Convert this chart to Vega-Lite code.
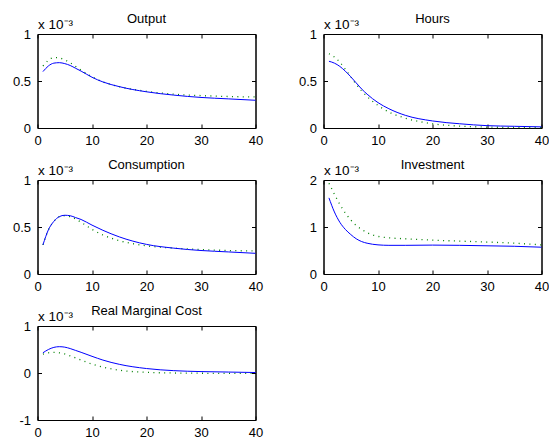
{
  "$schema": "https://vega.github.io/schema/vega-lite/v6.json",
  "padding": {"left": 11.5, "top": 12, "right": 0, "bottom": 0},
  "background": "white",
  "config": {
    "view": {"stroke": "black", "strokeWidth": 1},
    "axis": {"grid": false, "labelFont": "Liberation Sans", "labelFontSize": 13, "labelColor": "black",
      "titleFont": "Liberation Sans", "titleFontSize": 13.5, "titleFontWeight": "normal", "titleColor": "black",
      "domainColor": "black", "tickColor": "black", "tickSize": -4, "labelFlush": false, "labelOverlap": false},
    "axisX": {"labelPadding": 10},
    "axisY": {"labelPadding": 11},
    "title": {"font": "Liberation Sans", "fontSize": 13, "fontWeight": "normal", "color": "black", "anchor": "middle", "frame": "group", "offset": -9}
  },
  "data": {"values": [
    {"p":"Output","x":1,"a":0.60,"b":0.66},{"p":"Output","x":2,"a":0.66,"b":0.72},{"p":"Output","x":3,"a":0.69,"b":0.75},{"p":"Output","x":4,"a":0.695,"b":0.745},{"p":"Output","x":5,"a":0.685,"b":0.725},{"p":"Output","x":6,"a":0.665,"b":0.695},{"p":"Output","x":7,"a":0.635,"b":0.655},{"p":"Output","x":8,"a":0.605,"b":0.615},{"p":"Output","x":10,"a":0.54,"b":0.545},{"p":"Output","x":12,"a":0.49,"b":0.49},{"p":"Output","x":15,"a":0.44,"b":0.44},{"p":"Output","x":20,"a":0.385,"b":0.39},{"p":"Output","x":25,"a":0.35,"b":0.36},{"p":"Output","x":30,"a":0.325,"b":0.345},{"p":"Output","x":35,"a":0.31,"b":0.335},{"p":"Output","x":40,"a":0.295,"b":0.33},
    {"p":"Hours","x":1,"a":0.71,"b":0.79},{"p":"Hours","x":2,"a":0.69,"b":0.755},{"p":"Hours","x":3,"a":0.655,"b":0.70},{"p":"Hours","x":4,"a":0.605,"b":0.625},{"p":"Hours","x":5,"a":0.545,"b":0.545},{"p":"Hours","x":6,"a":0.48,"b":0.465},{"p":"Hours","x":7,"a":0.415,"b":0.395},{"p":"Hours","x":8,"a":0.36,"b":0.335},{"p":"Hours","x":10,"a":0.27,"b":0.24},{"p":"Hours","x":12,"a":0.205,"b":0.17},{"p":"Hours","x":15,"a":0.135,"b":0.105},{"p":"Hours","x":20,"a":0.075,"b":0.045},{"p":"Hours","x":25,"a":0.045,"b":0.02},{"p":"Hours","x":30,"a":0.025,"b":0.01},{"p":"Hours","x":35,"a":0.018,"b":0.006},{"p":"Hours","x":40,"a":0.012,"b":0.005},
    {"p":"Consumption","x":1,"a":0.31,"b":0.31},{"p":"Consumption","x":2,"a":0.47,"b":0.47},{"p":"Consumption","x":3,"a":0.56,"b":0.56},{"p":"Consumption","x":4,"a":0.61,"b":0.61},{"p":"Consumption","x":5,"a":0.625,"b":0.62},{"p":"Consumption","x":6,"a":0.62,"b":0.61},{"p":"Consumption","x":7,"a":0.60,"b":0.585},{"p":"Consumption","x":8,"a":0.58,"b":0.55},{"p":"Consumption","x":10,"a":0.52,"b":0.475},{"p":"Consumption","x":12,"a":0.465,"b":0.415},{"p":"Consumption","x":15,"a":0.395,"b":0.355},{"p":"Consumption","x":20,"a":0.315,"b":0.30},{"p":"Consumption","x":25,"a":0.275,"b":0.275},{"p":"Consumption","x":30,"a":0.25,"b":0.26},{"p":"Consumption","x":35,"a":0.235,"b":0.25},{"p":"Consumption","x":40,"a":0.22,"b":0.245},
    {"p":"Investment","x":1,"a":1.62,"b":1.93},{"p":"Investment","x":2,"a":1.32,"b":1.70},{"p":"Investment","x":3,"a":1.10,"b":1.48},{"p":"Investment","x":4,"a":0.95,"b":1.30},{"p":"Investment","x":5,"a":0.84,"b":1.15},{"p":"Investment","x":6,"a":0.75,"b":1.03},{"p":"Investment","x":7,"a":0.69,"b":0.95},{"p":"Investment","x":8,"a":0.655,"b":0.88},{"p":"Investment","x":10,"a":0.62,"b":0.80},{"p":"Investment","x":12,"a":0.61,"b":0.77},{"p":"Investment","x":15,"a":0.61,"b":0.75},{"p":"Investment","x":20,"a":0.615,"b":0.72},{"p":"Investment","x":25,"a":0.61,"b":0.70},{"p":"Investment","x":30,"a":0.60,"b":0.68},{"p":"Investment","x":35,"a":0.59,"b":0.655},{"p":"Investment","x":40,"a":0.57,"b":0.62},
    {"p":"Real Marginal Cost","x":1,"a":0.43,"b":0.40},{"p":"Real Marginal Cost","x":2,"a":0.50,"b":0.43},{"p":"Real Marginal Cost","x":3,"a":0.545,"b":0.44},{"p":"Real Marginal Cost","x":4,"a":0.56,"b":0.43},{"p":"Real Marginal Cost","x":5,"a":0.55,"b":0.405},{"p":"Real Marginal Cost","x":6,"a":0.52,"b":0.365},{"p":"Real Marginal Cost","x":7,"a":0.48,"b":0.32},{"p":"Real Marginal Cost","x":8,"a":0.44,"b":0.275},{"p":"Real Marginal Cost","x":10,"a":0.355,"b":0.19},{"p":"Real Marginal Cost","x":12,"a":0.275,"b":0.125},{"p":"Real Marginal Cost","x":15,"a":0.185,"b":0.06},{"p":"Real Marginal Cost","x":20,"a":0.095,"b":0.015},{"p":"Real Marginal Cost","x":25,"a":0.05,"b":0.0},{"p":"Real Marginal Cost","x":30,"a":0.03,"b":-0.005},{"p":"Real Marginal Cost","x":35,"a":0.02,"b":-0.01},{"p":"Real Marginal Cost","x":40,"a":0.01,"b":-0.01}
  ]},
  "columns": 2,
  "spacing": {"row": 52, "column": 68},
  "bounds": "flush",
  "concat": [
    {"title": "Output", "width": 218, "height": 94,
     "transform": [{"filter": "datum.p === 'Output'"}],
     "layer": [
      {"mark": {"type": "line", "color": "#008000", "strokeDash": [1, 4.4], "strokeWidth": 1.3, "interpolate": "monotone"},
       "encoding": {"x": {"field": "x", "type": "quantitative", "scale": {"domain": [0, 40]}, "axis": {"orient": "top", "labels": false, "title": null, "values": [0,10,20,30,40]}},
                    "y": {"field": "b", "type": "quantitative", "scale": {"domain": [0, 1]}, "axis": {"orient": "right", "labels": false, "title": null, "values": [0,0.5,1]}}}},
      {"mark": {"type": "line", "color": "#0000ff", "strokeWidth": 1, "interpolate": "monotone"},
       "encoding": {"x": {"field": "x", "type": "quantitative", "scale": {"domain": [0, 40]}, "axis": {"orient": "bottom", "title": null, "values": [0,10,20,30,40], "labelExpr": "'' + datum.value"}},
                    "y": {"field": "a", "type": "quantitative", "scale": {"domain": [0, 1]}, "axis": {"orient": "left", "values": [0,0.5,1], "labelExpr": "'' + datum.value", "title": "x 10⁻³", "titleAngle": 0, "titleAlign": "left", "titleBaseline": "alphabetic", "titleX": 0, "titleY": -6}}}}
     ],
     "resolve": {"axis": {"x": "independent", "y": "independent"}}},
    {"title": "Hours", "width": 218, "height": 94,
     "transform": [{"filter": "datum.p === 'Hours'"}],
     "layer": [
      {"mark": {"type": "line", "color": "#008000", "strokeDash": [1, 4.4], "strokeWidth": 1.3, "interpolate": "monotone"},
       "encoding": {"x": {"field": "x", "type": "quantitative", "scale": {"domain": [0, 40]}, "axis": {"orient": "top", "labels": false, "title": null, "values": [0,10,20,30,40]}},
                    "y": {"field": "b", "type": "quantitative", "scale": {"domain": [0, 1]}, "axis": {"orient": "right", "labels": false, "title": null, "values": [0,0.5,1]}}}},
      {"mark": {"type": "line", "color": "#0000ff", "strokeWidth": 1, "interpolate": "monotone"},
       "encoding": {"x": {"field": "x", "type": "quantitative", "scale": {"domain": [0, 40]}, "axis": {"orient": "bottom", "title": null, "values": [0,10,20,30,40], "labelExpr": "'' + datum.value"}},
                    "y": {"field": "a", "type": "quantitative", "scale": {"domain": [0, 1]}, "axis": {"orient": "left", "values": [0,0.5,1], "labelExpr": "'' + datum.value", "title": "x 10⁻³", "titleAngle": 0, "titleAlign": "left", "titleBaseline": "alphabetic", "titleX": 0, "titleY": -6}}}}
     ],
     "resolve": {"axis": {"x": "independent", "y": "independent"}}},
    {"title": "Consumption", "width": 218, "height": 94,
     "transform": [{"filter": "datum.p === 'Consumption'"}],
     "layer": [
      {"mark": {"type": "line", "color": "#008000", "strokeDash": [1, 4.4], "strokeWidth": 1.3, "interpolate": "monotone"},
       "encoding": {"x": {"field": "x", "type": "quantitative", "scale": {"domain": [0, 40]}, "axis": {"orient": "top", "labels": false, "title": null, "values": [0,10,20,30,40]}},
                    "y": {"field": "b", "type": "quantitative", "scale": {"domain": [0, 1]}, "axis": {"orient": "right", "labels": false, "title": null, "values": [0,0.5,1]}}}},
      {"mark": {"type": "line", "color": "#0000ff", "strokeWidth": 1, "interpolate": "monotone"},
       "encoding": {"x": {"field": "x", "type": "quantitative", "scale": {"domain": [0, 40]}, "axis": {"orient": "bottom", "title": null, "values": [0,10,20,30,40], "labelExpr": "'' + datum.value"}},
                    "y": {"field": "a", "type": "quantitative", "scale": {"domain": [0, 1]}, "axis": {"orient": "left", "values": [0,0.5,1], "labelExpr": "'' + datum.value", "title": "x 10⁻³", "titleAngle": 0, "titleAlign": "left", "titleBaseline": "alphabetic", "titleX": 0, "titleY": -6}}}}
     ],
     "resolve": {"axis": {"x": "independent", "y": "independent"}}},
    {"title": "Investment", "width": 218, "height": 94,
     "transform": [{"filter": "datum.p === 'Investment'"}],
     "layer": [
      {"mark": {"type": "line", "color": "#008000", "strokeDash": [1, 4.4], "strokeWidth": 1.3, "interpolate": "monotone"},
       "encoding": {"x": {"field": "x", "type": "quantitative", "scale": {"domain": [0, 40]}, "axis": {"orient": "top", "labels": false, "title": null, "values": [0,10,20,30,40]}},
                    "y": {"field": "b", "type": "quantitative", "scale": {"domain": [0, 2]}, "axis": {"orient": "right", "labels": false, "title": null, "values": [0,1,2]}}}},
      {"mark": {"type": "line", "color": "#0000ff", "strokeWidth": 1, "interpolate": "monotone"},
       "encoding": {"x": {"field": "x", "type": "quantitative", "scale": {"domain": [0, 40]}, "axis": {"orient": "bottom", "title": null, "values": [0,10,20,30,40], "labelExpr": "'' + datum.value"}},
                    "y": {"field": "a", "type": "quantitative", "scale": {"domain": [0, 2]}, "axis": {"orient": "left", "values": [0,1,2], "labelExpr": "'' + datum.value", "title": "x 10⁻³", "titleAngle": 0, "titleAlign": "left", "titleBaseline": "alphabetic", "titleX": 0, "titleY": -6}}}}
     ],
     "resolve": {"axis": {"x": "independent", "y": "independent"}}},
    {"title": "Real Marginal Cost", "width": 218, "height": 94,
     "transform": [{"filter": "datum.p === 'Real Marginal Cost'"}],
     "layer": [
      {"mark": {"type": "line", "color": "#008000", "strokeDash": [1, 4.4], "strokeWidth": 1.3, "interpolate": "monotone"},
       "encoding": {"x": {"field": "x", "type": "quantitative", "scale": {"domain": [0, 40]}, "axis": {"orient": "top", "labels": false, "title": null, "values": [0,10,20,30,40]}},
                    "y": {"field": "b", "type": "quantitative", "scale": {"domain": [-1, 1]}, "axis": {"orient": "right", "labels": false, "title": null, "values": [-1,0,1]}}}},
      {"mark": {"type": "line", "color": "#0000ff", "strokeWidth": 1, "interpolate": "monotone"},
       "encoding": {"x": {"field": "x", "type": "quantitative", "scale": {"domain": [0, 40]}, "axis": {"orient": "bottom", "title": null, "values": [0,10,20,30,40], "labelExpr": "'' + datum.value"}},
                    "y": {"field": "a", "type": "quantitative", "scale": {"domain": [-1, 1]}, "axis": {"orient": "left", "values": [-1,0,1], "labelExpr": "'' + datum.value", "title": "x 10⁻³", "titleAngle": 0, "titleAlign": "left", "titleBaseline": "alphabetic", "titleX": 0, "titleY": -6}}}}
     ],
     "resolve": {"axis": {"x": "independent", "y": "independent"}}}
  ]
}
